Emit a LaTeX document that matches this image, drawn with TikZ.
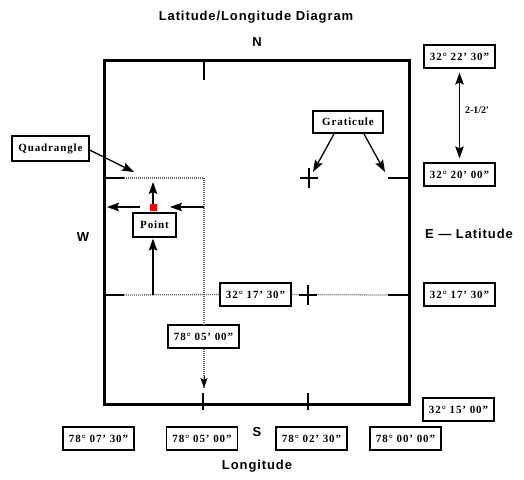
\documentclass[tikz,border=0pt]{standalone}
\usepackage{fontspec}
\setmainfont{Liberation Serif}[LetterSpace=8]
\newfontfamily\plainserif{Liberation Serif}
\newfontfamily\hfont{Liberation Sans}[LetterSpace=7]
\usetikzlibrary{arrows.meta}
\tikzset{
  lbl/.style={draw, line width=1.2pt, font=\bfseries\fontsize{11}{12}\selectfont, inner sep=0pt, minimum height=23pt, minimum width=71pt},
  head/.style={font=\hfont\bfseries\fontsize{13}{14}\selectfont, inner sep=0pt},
  arr/.style={line width=1.3pt, -{Stealth[length=12pt,width=8.5pt,inset=2pt]}},
  darr/.style={line width=1.3pt, {Stealth[length=12pt,width=8.5pt,inset=2pt]}-{Stealth[length=12pt,width=8.5pt,inset=2pt]}},
  dotl/.style={dash pattern=on 1pt off 1pt, line width=1.3pt, black!60},
  tickl/.style={line width=1.4pt},
  frame/.style={line width=3pt},
}
\begin{document}
\begin{tikzpicture}[x=1pt,y=-1pt]
\useasboundingbox (0,0) rectangle (524,479);
% headings
\node[head] (title) at (256,17) {Latitude/Longitude Diagram};
\node[head] (n) at (257,42) {N};
\node[head] (s) at (257,432) {S};
\node[head] (w) at (83,237) {W};
\node[head,anchor=west] (e) at (425,234) {E — Latitude};
\node[head] (lon) at (257,466) {Longitude};
% frame
\coordinate (fnw) at (104,60);
\coordinate (fse) at (409,404);
\draw[frame] (fnw) rectangle (fse);
% right latitude boxes
\node[lbl] (r1) at (459.5,56.5) {32° 22' 30"};
\node[lbl] (r2) at (459.5,174.5) {32° 20' 00"};
\node[lbl] (r3) at (459.5,294.5) {32° 17' 30"};
\node[lbl] (r4) at (458.5,409.5) {32° 15' 00"};
\draw[darr, shorten <=4pt, shorten >=4pt] (r1.south) -- (r2.north);
\node[font=\plainserif\bfseries\fontsize{10}{12}\selectfont] (half) at (477,110) {2-1/2'};
% bottom longitude boxes
\node[lbl] (b1) at (98.5,438.5) {78° 07' 30"};
\node[lbl] (b2) at (202,438.5) {78° 05' 00"};
\node[lbl] (b3) at (311.5,438.5) {78° 02' 30"};
\node[lbl] (b4) at (405.5,438.5) {78° 00' 00"};
% ticks
\coordinate (tt1) at (204,60); \coordinate (tt2) at (204,80);
\draw[tickl] (tt1) -- (tt2);
\coordinate (bt1) at (203,393); \coordinate (bt2) at (203,410);
\draw[tickl] (bt1) -- (bt2);
\coordinate (bt3) at (308,393); \coordinate (bt4) at (308,410);
\draw[tickl] (bt3) -- (bt4);
% upper graticule line y=178
\coordinate (l1a) at (104,178); \coordinate (l1b) at (124,178); \coordinate (q1) at (204,178);
\draw[tickl] (l1a) -- (l1b);
\draw[dotl] (l1b) -- (q1);
\coordinate (r1a) at (388,178); \coordinate (r1b) at (409,178);
\draw[tickl] (r1a) -- (r1b);
% lower line y=295
\node[lbl] (mid) at (255.5,294.5) {32° 17' 30"};
\coordinate (l2a) at (104,295); \coordinate (l2b) at (124,295);
\draw[tickl] (l2a) -- (l2b);
\draw[dotl] (l2b) -- (mid.west);
\coordinate (l2c) at (388,295); \coordinate (l2d) at (409,295);
\draw[dotl] (mid.east) -- (l2c);
\draw[tickl] (l2c) -- (l2d);
% vertical dotted line x=204
\node[lbl] (lonmid) at (203.5,336.5) {78° 05' 00"};
\draw[dotl] (q1) -- (q1 |- lonmid.north);
\coordinate (vend) at (204,388);
\coordinate (vtip) at (204,376);
\draw[dotl] (lonmid.south -| q1) -- (vend);
\draw[line width=1pt, -{Stealth[length=10pt,width=7pt,inset=2pt]}] (vtip) -- (vend);
% plus signs
\coordinate (p1) at (309,178);
\draw[tickl] ([xshift=-9pt]p1) -- ([xshift=9pt]p1);
\draw[tickl] ([yshift=10pt]p1) -- ([yshift=-10pt]p1);
\coordinate (p2) at (308,295);
\draw[tickl] ([xshift=-9pt]p2) -- ([xshift=9pt]p2);
\draw[tickl] ([yshift=10pt]p2) -- ([yshift=-10pt]p2);
% graticule
\node[lbl, minimum width=70pt, minimum height=22pt] (grat) at (348,122) {Graticule};
\coordinate (ga) at (334,134); \coordinate (gat) at (313,172);
\coordinate (gb) at (364,134); \coordinate (gbt) at (385,172);
\draw[arr] (ga) -- (gat);
\draw[arr] (gb) -- (gbt);
% quadrangle
\node[lbl, minimum width=77pt, minimum height=25pt] (quad) at (50.5,148.5) {Quadrangle};
\coordinate (qt) at (134,172);
\draw[arr] (quad.east |- 0,150) -- (qt);
% point
\node[fill=red, minimum size=7pt, inner sep=0pt] (pt) at (153,207) {};
\node[lbl, minimum width=43pt, minimum height=24pt] (point) at (154.5,225) {Point};
\coordinate (upt) at (153,182);
\draw[arr] ([yshift=-1pt]pt.north) -- (upt);
\coordinate (la) at (140,207); \coordinate (lt) at (107,207);
\draw[arr] (la) -- (lt);
\coordinate (ra) at (204,207); \coordinate (rt) at (170,207);
\draw[arr] (ra) -- (rt);
\coordinate (ub) at (153,295);
\draw[arr] (ub) -- ([yshift=-1pt]point.south -| ub);
\end{tikzpicture}
\end{document}
